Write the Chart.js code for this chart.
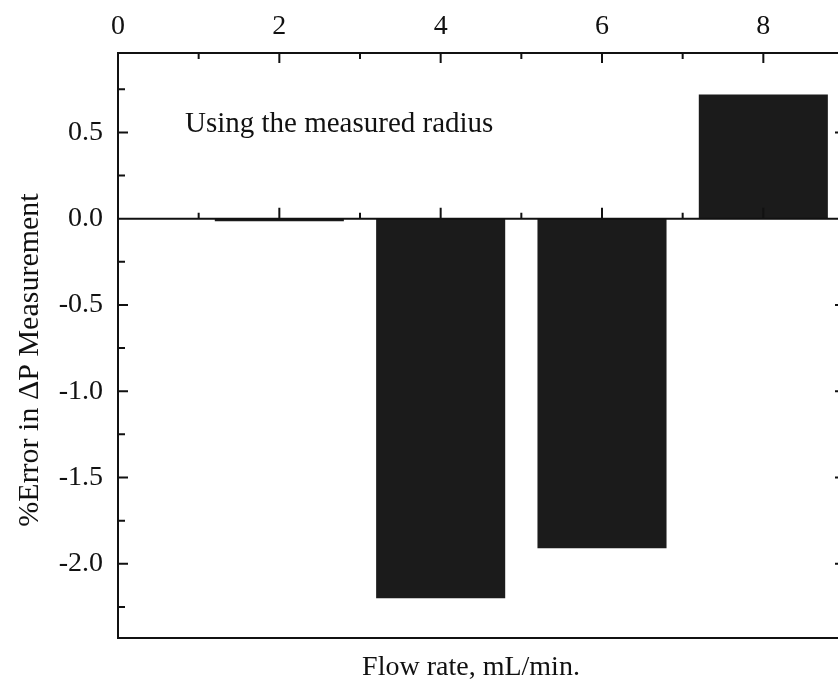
<!DOCTYPE html>
<html>
<head>
<meta charset="utf-8">
<title>%Error in ΔP Measurement</title>
<script src="https://cdn.jsdelivr.net/npm/chart.js@4.4.1/dist/chart.umd.min.js"></script>
<style>
    html, body { margin: 0; padding: 0; background: #fff; overflow: hidden; }
    #wrap { width: 850px; height: 689px; }
</style>
</head>
<body>
<div id="wrap"><canvas id="chartCanvas" width="850" height="689"></canvas></div>
<script>
// 流量 (mL/min) 與 ΔP 量測誤差 (%)
const flowRates = [2, 4, 6, 8];
const errorValues = [-0.015, -2.2, -1.91, 0.72];

// 刻度
const xTicks = [0, 2, 4, 6, 8];
const xMinorTicks = [1, 3, 5, 7];
const yTicks = [-2.0, -1.5, -1.0, -0.5, 0.0, 0.5];
const yMinorTicks = [-2.25, -1.75, -1.25, -0.75, -0.25, 0.25, 0.75];

// 文字
const xTitle = 'Flow rate, mL/min.';
const yTitle = '%Error in ΔP Measurement';
const noteText = 'Using the measured radius';

const ink = '#111';
const serif = '"Liberation Serif", "Times New Roman", serif';

Chart.defaults.font.family = serif;
Chart.defaults.color = ink;

// 外框、向內刻度、零線與文字
const axisFrame = {
    id: 'axisFrame',
    afterDatasetsDraw(chart) {
        const { ctx, chartArea: a, scales: { x, y } } = chart;
        const y0 = y.getPixelForValue(0);
        ctx.save();
        ctx.strokeStyle = ink;
        ctx.lineWidth = 2;
        ctx.beginPath();
        ctx.rect(a.left, a.top, a.right - a.left, a.bottom - a.top);
        ctx.moveTo(a.left, y0);
        ctx.lineTo(a.right, y0);

        xTicks.forEach(v => {
            const px = x.getPixelForValue(v);
            ctx.moveTo(px, a.top); ctx.lineTo(px, a.top + 10);
            ctx.moveTo(px, y0); ctx.lineTo(px, y0 - 11);
        });
        xMinorTicks.forEach(v => {
            const px = x.getPixelForValue(v);
            ctx.moveTo(px, a.top); ctx.lineTo(px, a.top + 6);
            ctx.moveTo(px, y0); ctx.lineTo(px, y0 - 6);
        });
        yTicks.forEach(v => {
            const py = y.getPixelForValue(v);
            ctx.moveTo(a.left, py); ctx.lineTo(a.left + 10, py);
            ctx.moveTo(a.right, py); ctx.lineTo(a.right - 9, py);
        });
        yMinorTicks.forEach(v => {
            const py = y.getPixelForValue(v);
            ctx.moveTo(a.left, py); ctx.lineTo(a.left + 7, py);
        });
        ctx.stroke();

        ctx.fillStyle = ink;
        ctx.font = '29px ' + serif;
        ctx.textAlign = 'left';
        ctx.textBaseline = 'alphabetic';
        ctx.fillText(noteText, x.getPixelForValue(0.83), y.getPixelForValue(0.5));

        ctx.font = '28px ' + serif;
        ctx.textAlign = 'center';
        ctx.fillText(xTitle, 471, 675);

        ctx.font = '30px ' + serif;
        ctx.translate(38, 360);
        ctx.rotate(-Math.PI / 2);
        ctx.fillText(yTitle, 0, 0);
        ctx.restore();
    }
};

new Chart(document.getElementById('chartCanvas'), {
    type: 'bar',
    data: {
        datasets: [{
            data: flowRates.map((f, i) => ({ x: f, y: errorValues[i] })),
            backgroundColor: '#1b1b1b',
            borderWidth: 0,
            categoryPercentage: 1,
            barPercentage: 0.8
        }]
    },
    options: {
        responsive: false,
        animation: false,
        layout: { padding: { top: 0, left: 0, right: 6, bottom: 51 } },
        plugins: {
            legend: { display: false },
            tooltip: { enabled: false }
        },
        scales: {
            x: {
                type: 'linear',
                position: 'top',
                offset: false,
                min: 0,
                max: 9,
                grid: { display: false, drawTicks: false },
                border: { display: false },
                afterBuildTicks: scale => { scale.ticks = xTicks.map(v => ({ value: v })); },
                afterFit: scale => { scale.height = 53; },
                ticks: {
                    font: { size: 28 },
                    padding: 10,
                    maxRotation: 0,
                    callback: v => String(v)
                }
            },
            y: {
                min: -2.43,
                max: 0.96,
                grid: { display: false, drawTicks: false },
                border: { display: false },
                afterBuildTicks: scale => { scale.ticks = yTicks.map(v => ({ value: v })); },
                afterFit: scale => { scale.width = 118; },
                ticks: {
                    font: { size: 28 },
                    padding: 15,
                    callback: v => v.toFixed(1)
                }
            }
        }
    },
    plugins: [axisFrame]
});
</script>
</body>
</html>
